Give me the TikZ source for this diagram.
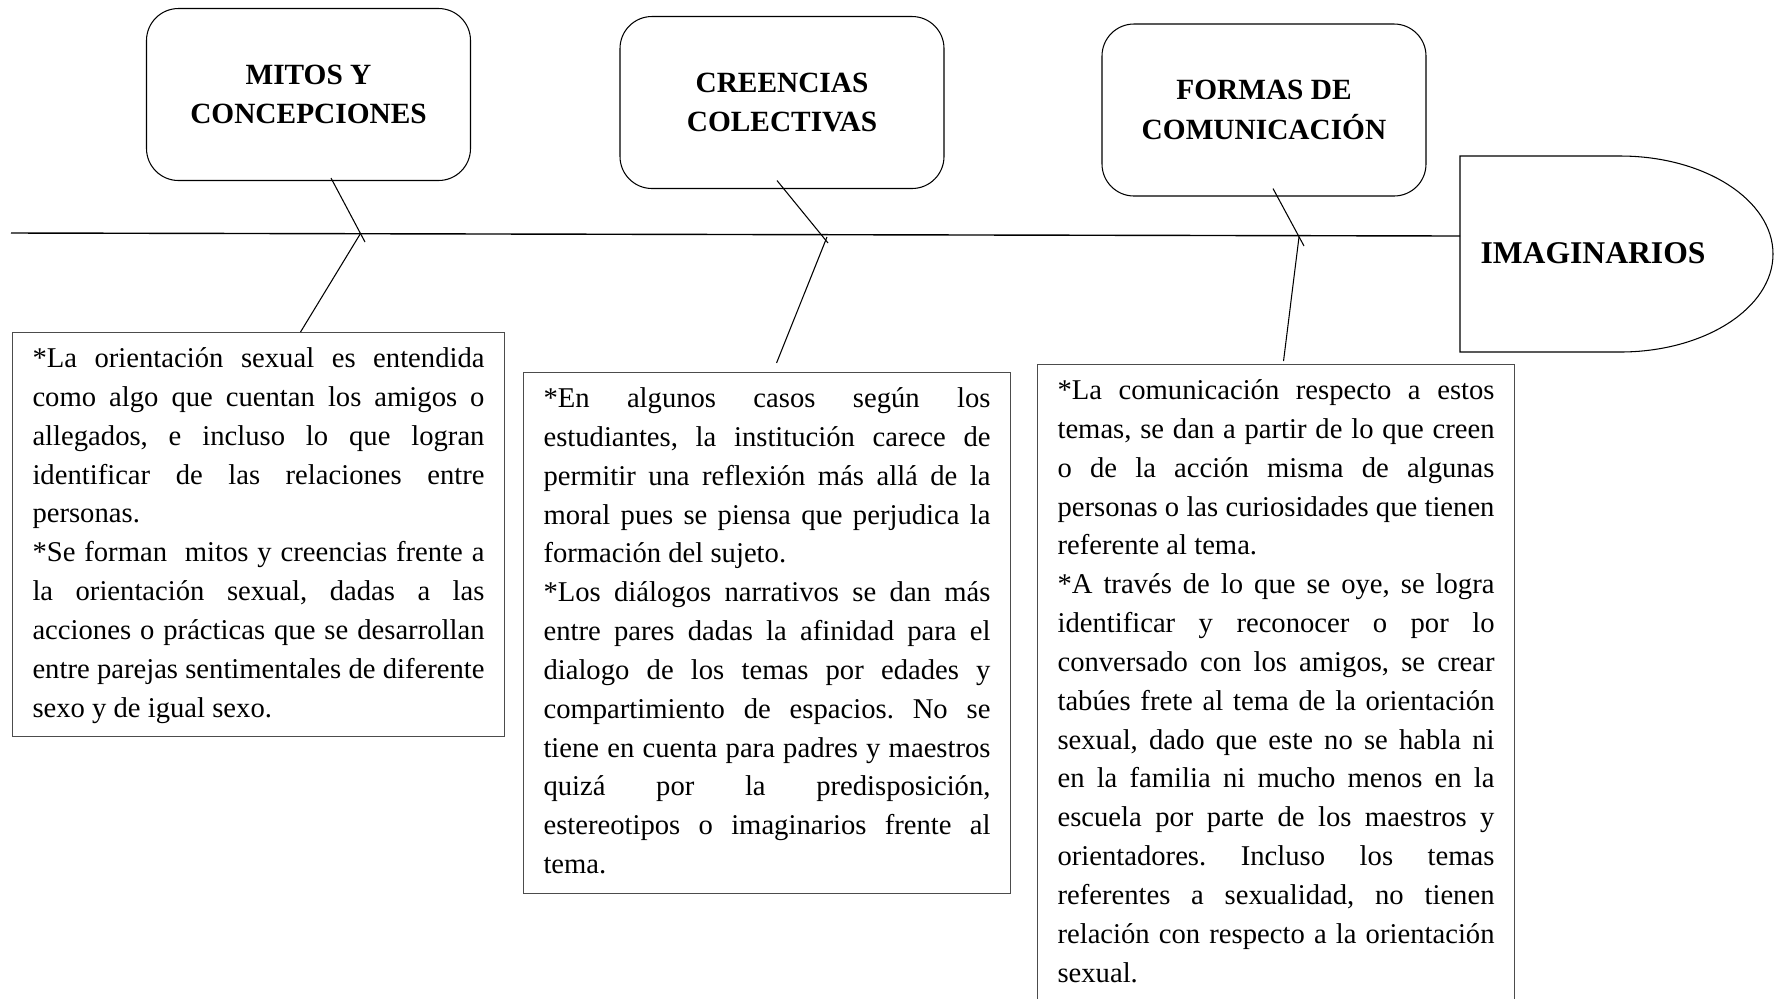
\documentclass[tikz,border=0pt]{standalone}
\usepackage{fontspec}
\setmainfont{Liberation Serif}[WordSpace={1,1,2}]
\usepackage{tikz}
\usetikzlibrary{positioning}
\setlength{\parindent}{0pt}
\tolerance=10000
\hyphenpenalty=10000
\frenchspacing

\tikzset{
  tema/.style={draw, line width=0.6pt, rounded corners=0.64cm, minimum width=6.48cm,
    minimum height=3.44cm, align=center, font=\bfseries\fontsize{16.7}{22.4}\selectfont},
  cuadro/.style={draw=black!70, line width=0.6pt, anchor=north west, inner xsep=0.4cm,
    inner ysep=4.5pt, align=justify, font=\fontsize{16.3}{22.1}\selectfont},
  hueso/.style={line width=0.6pt}
}

\begin{document}
\begin{tikzpicture}
\useasboundingbox (0,0) rectangle (35.5,-19.96);

% cabeza del pescado
\draw[line width=0.6pt] (29.2,-3.12) -- (32.4,-3.12)
    arc[start angle=90, end angle=-90, x radius=3.06, y radius=1.96] -- (29.2,-7.04) -- cycle;
\node[font=\bfseries\fontsize{18}{22}\selectfont] (imag) at (31.86,-5.06) {IMAGINARIOS};

% espina
\coordinate (cola) at (0.22,-4.66);
\coordinate (cabeza) at (29.2,-4.72);
\draw[line width=0.8pt] (cola) -- (cabeza);

\node[tema] (mitos) at (6.17,-1.89) {MITOS Y\\CONCEPCIONES};
\node[tema] (creencias) at (15.64,-2.05) {CREENCIAS\\COLECTIVAS};
\node[tema] (formas) at (25.28,-2.2) {FORMAS DE\\COMUNICACIÓN};

\node[cuadro, text width=9.04cm] (texto1) at (0.24,-6.64) {\strut*La orientación sexual es entendida\linebreak
como algo que cuentan los amigos o\linebreak
allegados, e incluso lo que logran\linebreak
identificar de las relaciones entre\linebreak
personas.\par
*Se forman\ \ mitos y creencias frente a\linebreak
la orientación sexual, dadas a las\linebreak
acciones o prácticas que se desarrollan\linebreak
entre parejas sentimentales de diferente\linebreak
sexo y de igual sexo.\strut};

\node[cuadro, text width=8.94cm] (texto2) at (10.46,-7.44) {\strut*En algunos casos según los\linebreak
estudiantes, la institución carece de\linebreak
permitir una reflexión más allá de la\linebreak
moral pues se piensa que perjudica la\linebreak
formación del sujeto.\par
*Los diálogos narrativos se dan más\linebreak
entre pares dadas la afinidad para el\linebreak
dialogo de los temas por edades y\linebreak
compartimiento de espacios. No se\linebreak
tiene en cuenta para padres y maestros\linebreak
quizá por la predisposición,\linebreak
estereotipos o imaginarios frente al\linebreak
tema.\strut};

\node[cuadro, text width=8.74cm] (texto3) at (20.74,-7.28) {\strut*La comunicación respecto a estos\linebreak
temas, se dan a partir de lo que creen\linebreak
o de la acción misma de algunas\linebreak
personas o las curiosidades que tienen\linebreak
referente al tema.\par
*A través de lo que se oye, se logra\linebreak
identificar y reconocer o por lo\linebreak
conversado con los amigos, se crear\linebreak
tabúes frete al tema de la orientación\linebreak
sexual, dado que este no se habla ni\linebreak
en la familia ni mucho menos en la\linebreak
escuela por parte de los maestros y\linebreak
orientadores. Incluso los temas\linebreak
referentes a sexualidad, no tienen\linebreak
relación con respecto a la orientación\linebreak
sexual.\strut};

% espinas
\coordinate (p1) at (7.30,-4.84);
\coordinate (j1) at (7.21,-4.67);
\coordinate (p2) at (16.56,-4.86);
\coordinate (j2) at (16.54,-4.74);
\coordinate (p3) at (26.08,-4.92);
\coordinate (j3) at (25.98,-4.74);
\draw[hueso] ([xshift=0.45cm,yshift=0.06cm]mitos.south) -- (p1);
\draw[hueso] (j1) -- ([xshift=0.84cm]texto1.north);
\draw[hueso] ([xshift=-0.1cm,yshift=0.17cm]creencias.south) -- (p2);
\draw[hueso] (j2) -- ([xshift=0.19cm,yshift=0.18cm]texto2.north);
\draw[hueso] ([xshift=0.18cm,yshift=0.16cm]formas.south) -- (p3);
\draw[hueso] (j3) -- ([xshift=0.15cm,yshift=0.06cm]texto3.north);
\end{tikzpicture}
\end{document}
